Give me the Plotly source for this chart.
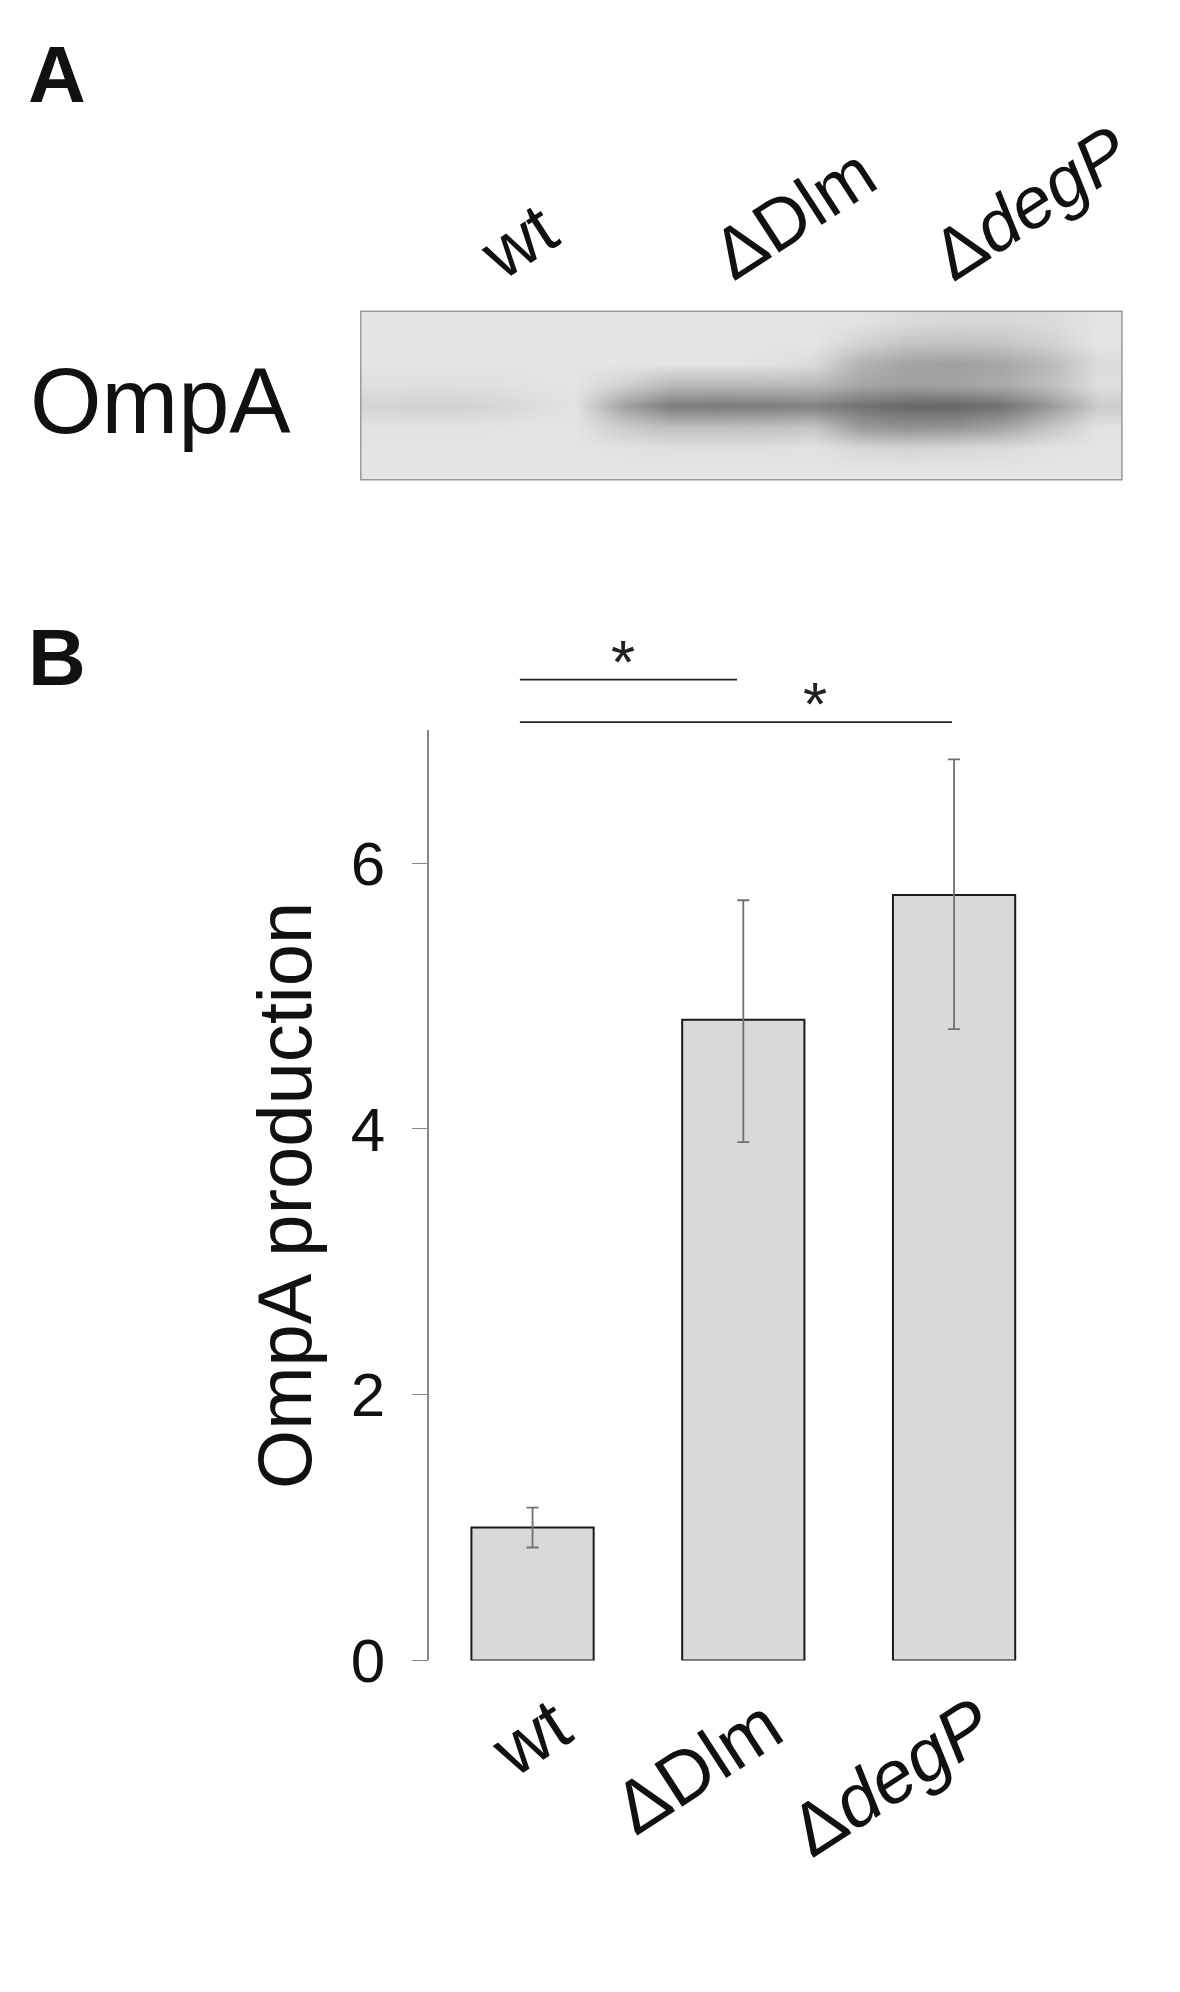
import plotly.graph_objects as go

strains = ["wt", "ΔDlm", "ΔdegP"]
strain_labels = ["wt", "ΔDlm", "Δ<i>degP</i>"]
ompa_mean = [1.0, 4.82, 5.76]
ompa_err_plus = [0.15, 0.90, 1.02]
ompa_err_minus = [0.15, 0.92, 1.01]

# significance brackets: (start, end, height, star x)
sig_start = [-0.06, -0.06]
sig_end = [0.97, 1.99]
sig_height = [7.38, 7.06]
sig_star_x = [0.43, 1.34]

# blot band intensity, rows top->bottom, 16 columns across the membrane
blot = [
    [0.05, 0.05, 0.05, 0.05, 0.05, 0.05, 0.05, 0.05, 0.05, 0.05, 0.06, 0.10, 0.12, 0.12, 0.10, 0.05],
    [0.05, 0.05, 0.05, 0.05, 0.05, 0.05, 0.05, 0.05, 0.05, 0.05, 0.14, 0.22, 0.24, 0.22, 0.15, 0.05],
    [0.05, 0.05, 0.05, 0.05, 0.05, 0.05, 0.05, 0.05, 0.06, 0.10, 0.32, 0.40, 0.42, 0.38, 0.28, 0.10],
    [0.08, 0.08, 0.08, 0.06, 0.05, 0.15, 0.28, 0.28, 0.28, 0.28, 0.38, 0.42, 0.40, 0.36, 0.25, 0.08],
    [0.14, 0.16, 0.14, 0.10, 0.06, 0.40, 0.60, 0.62, 0.60, 0.58, 0.66, 0.72, 0.72, 0.66, 0.45, 0.18],
    [0.06, 0.06, 0.06, 0.05, 0.05, 0.18, 0.25, 0.25, 0.24, 0.22, 0.45, 0.50, 0.48, 0.40, 0.22, 0.06],
    [0.05, 0.05, 0.05, 0.05, 0.05, 0.06, 0.08, 0.08, 0.08, 0.06, 0.12, 0.14, 0.12, 0.10, 0.06, 0.05],
    [0.05, 0.05, 0.05, 0.05, 0.05, 0.05, 0.05, 0.05, 0.05, 0.05, 0.05, 0.05, 0.05, 0.05, 0.05, 0.05],
]

font = "Liberation Sans, Arial, sans-serif"
y_dom = [0.1556, 0.631]
y_max = 7


def to_paper(v):
    return y_dom[0] + v / y_max * (y_dom[1] - y_dom[0])


fig = go.Figure()
fig.add_trace(go.Bar(
    x=strains, y=ompa_mean, width=0.58,
    marker=dict(color="#d9d9d9", line=dict(color="#1a1a1a", width=2)),
    error_y=dict(type="data", array=ompa_err_plus, arrayminus=ompa_err_minus,
                 color="#707070", thickness=1.8, width=6),
))
fig.add_trace(go.Heatmap(
    z=blot, xaxis="x2", yaxis="y2", zmin=0, zmax=1, zsmooth="best",
    colorscale=[[0, "#eeeeee"], [1, "#333333"]], showscale=False, hoverinfo="skip",
))

for s, e, h, sx in zip(sig_start, sig_end, sig_height, sig_star_x):
    fig.add_shape(type="line", xref="x", yref="paper", x0=s, x1=e,
                  y0=to_paper(h), y1=to_paper(h), line=dict(color="#222", width=1.8))
    fig.add_annotation(x=sx, y=to_paper(h), xref="x", yref="paper", text="*", showarrow=False,
                       yanchor="bottom", yshift=-18, font=dict(size=62, color="#222"))

# blot frame
fig.add_shape(type="rect", xref="paper", yref="paper", x0=0.299, x1=0.944, y0=0.759, y1=0.845,
              line=dict(color="#999", width=1.5))

# category labels under the bars
for s, lab in zip(strains, strain_labels):
    fig.add_annotation(x=s, y=0.146, xref="paper" if False else "x", yref="paper", text=lab,
                       showarrow=False, textangle=-33, xanchor="right", yanchor="top", xshift=55,
                       font=dict(size=74, color="#111", family=font))

# lane labels above the blot
lane_x = [0.433, 0.666, 0.866]
for lx, lab in zip(lane_x, strain_labels):
    fig.add_annotation(x=lx, y=0.852, xref="paper", yref="paper", text=lab, showarrow=False,
                       textangle=-33, xanchor="center", yanchor="bottom",
                       font=dict(size=72, color="#111", family=font))

fig.add_annotation(x=0.017, y=0.799, xref="paper", yref="paper", text="OmpA", showarrow=False,
                   xanchor="left", yanchor="middle", font=dict(size=92, color="#111", family=font))
fig.add_annotation(x=0.015, y=0.99, xref="paper", yref="paper", text="<b>A</b>", showarrow=False,
                   xanchor="left", yanchor="top", font=dict(size=80, color="#111", family=font))
fig.add_annotation(x=0.015, y=0.692, xref="paper", yref="paper", text="<b>B</b>", showarrow=False,
                   xanchor="left", yanchor="top", font=dict(size=80, color="#111", family=font))

fig.update_layout(
    width=1180, height=1992, margin=dict(l=0, r=0, t=0, b=0),
    paper_bgcolor="white", plot_bgcolor="white", showlegend=False,
    font=dict(family=font, color="#111"),
    xaxis=dict(domain=[0.357, 0.9], range=[-0.49, 2.55], showticklabels=False,
               showline=False, showgrid=False, zeroline=False, ticks=""),
    yaxis=dict(domain=y_dom, range=[0, y_max], tickvals=[0, 2, 4, 6],
               showline=True, linecolor="#888", linewidth=1.5, ticks="outside",
               ticklen=16, tickcolor="#888", showgrid=False, zeroline=False,
               tickfont=dict(size=62), ticklabelstandoff=14,
               title=dict(text="OmpA production", font=dict(size=76), standoff=14)),
    xaxis2=dict(domain=[0.299, 0.944], visible=False, anchor="y2"),
    yaxis2=dict(domain=[0.759, 0.845], visible=False, anchor="x2", autorange="reversed"),
)

fig.write_html("out.html")
